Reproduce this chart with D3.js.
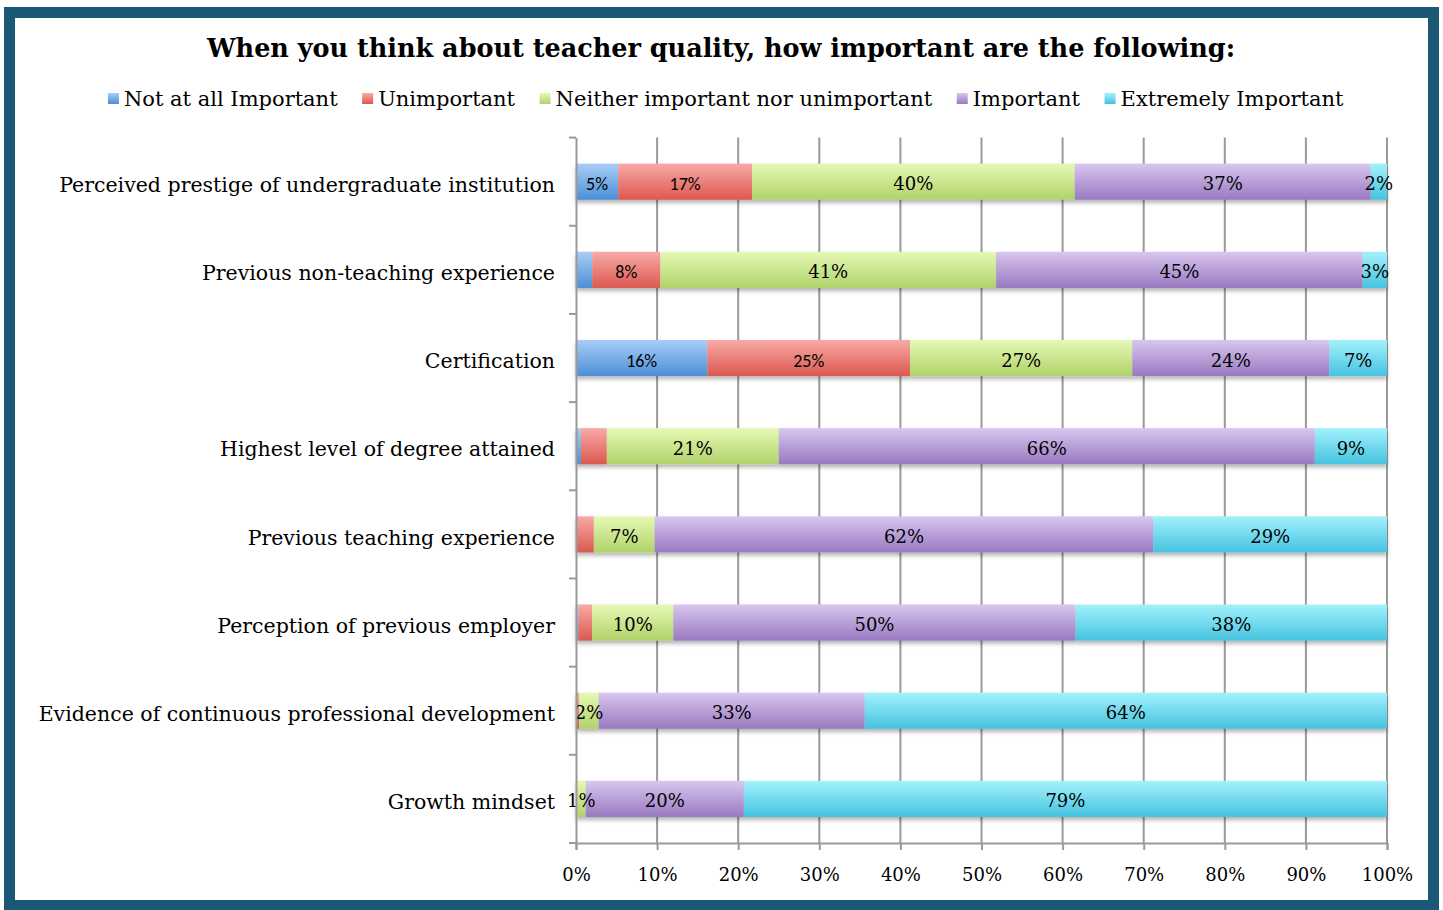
<!DOCTYPE html>
<html>
<head>
<meta charset="utf-8">
<script src="https://cdn.jsdelivr.net/npm/d3@7"></script>
<style>
  body { margin: 0; background: #fff; }
  svg text { font-family: "DejaVu Serif", Georgia, serif; fill: #000; }
</style>
</head>
<body>
<div id="chart"></div>
<script>
// chart data, percent of respondents
var categories = [
  "Perceived prestige of undergraduate institution",
  "Previous non-teaching experience",
  "Certification",
  "Highest level of degree attained",
  "Previous teaching experience",
  "Perception of previous employer",
  "Evidence of continuous professional development",
  "Growth mindset"
];
var seriesNames = ["Not at all Important", "Unimportant", "Neither important nor unimportant", "Important", "Extremely Important"];
var notAtAll    = [5.2, 2.0, 16.2, 0.6, 0.1, 0.3, 0.0, 0.1];
var unimportant = [16.5, 8.4, 25.0, 3.2, 2.1, 1.7, 0.4, 0.0];
var neither     = [39.8, 41.4, 27.4, 21.2, 7.5, 10.0, 2.4, 1.1];
var important   = [36.5, 45.2, 24.3, 66.1, 61.5, 49.6, 32.8, 19.5];
var extremely   = [2.0, 3.0, 7.1, 8.9, 28.8, 38.4, 64.4, 79.3];
// which small segments show no label (row index per series)
var hiddenLabels = [[1, 3, 4, 5, 6, 7], [3, 4, 5, 6, 7], [], [], []];
var xTicks = [0, 10, 20, 30, 40, 50, 60, 70, 80, 90, 100];

var seriesValues = [notAtAll, unimportant, neither, important, extremely];
var colorTop = ["#a9cdf5", "#f8aaa6", "#e6f9b4", "#d9c6f0", "#a3f1fc"];
var colorBot = ["#4b8fd8", "#dc5850", "#b0d26a", "#9879c0", "#45c3e0"];

var W = 1443, H = 910;
var margin = { left: 576, right: 1443 - 1387, top: 137.6, bottom: 910 - 843 };

var svg = d3.select("#chart").append("svg")
    .attr("width", W)
    .attr("height", H);

var defs = svg.append("defs");
colorTop.forEach(function(c, i) {
  var g = defs.append("linearGradient")
      .attr("id", "grad" + i)
      .attr("x1", 0).attr("y1", 0).attr("x2", 0).attr("y2", 1);
  g.append("stop").attr("offset", "0%").attr("stop-color", c);
  g.append("stop").attr("offset", "100%").attr("stop-color", colorBot[i]);
});
var shadow = defs.append("filter").attr("id", "shadow")
    .attr("x", "-5%").attr("y", "-20%").attr("width", "110%").attr("height", "160%");
shadow.append("feDropShadow")
    .attr("dx", 0).attr("dy", 3).attr("stdDeviation", 2)
    .attr("flood-color", "#000").attr("flood-opacity", 0.3);

// frame
svg.append("rect")
    .attr("x", 9.5).attr("y", 12.5)
    .attr("width", 1424).attr("height", 893)
    .attr("fill", "#fff")
    .attr("stroke", "#1b5876")
    .attr("stroke-width", 11);

var x = d3.scaleLinear().domain([0, 100]).range([margin.left, W - margin.right]);
var y = d3.scaleBand().domain(categories)
    .range([margin.top, H - margin.bottom])
    .paddingInner(0.59).paddingOuter(0.295);

// vertical gridlines
svg.append("g")
    .selectAll("line")
    .data(xTicks.slice(1))
    .join("line")
    .attr("x1", function(d) { return x(d); })
    .attr("x2", function(d) { return x(d); })
    .attr("y1", margin.top)
    .attr("y2", H - margin.bottom)
    .attr("stroke", "#9a9a9a")
    .attr("stroke-width", 2);

// stacked series
var rows = categories.map(function(c, i) {
  var o = { cat: c };
  seriesValues.forEach(function(s, k) { o["s" + k] = s[i]; });
  return o;
});
var stack = d3.stack().keys(seriesValues.map(function(s, k) { return "s" + k; }));
var layers = stack(rows);

var barG = svg.append("g").attr("filter", "url(#shadow)");
layers.forEach(function(layer, k) {
  barG.append("g")
      .selectAll("rect")
      .data(layer)
      .join("rect")
      .attr("x", function(d) { return x(d[0]); })
      .attr("width", function(d) { return Math.max(0, x(d[1]) - x(d[0])); })
      .attr("y", function(d) { return y(d.data.cat); })
      .attr("height", y.bandwidth())
      .attr("fill", "url(#grad" + k + ")");
});

// data labels
layers.forEach(function(layer, k) {
  svg.append("g")
      .selectAll("text")
      .data(layer.filter(function(d, i) { return hiddenLabels[k].indexOf(i) < 0; }))
      .join("text")
      .attr("x", function(d) { return x((d[0] + d[1]) / 2); })
      .attr("y", function(d) { return y(d.data.cat) + y.bandwidth() / 2 + 2; })
      .attr("dy", "0.36em")
      .attr("text-anchor", "middle")
      .style("font-family", k < 2 ? "Carlito, 'Liberation Sans', sans-serif" : null)
      .style("font-size", "18px")
      .text(function(d) { return Math.round(d[1] - d[0]) + "%"; });
});

// axes
var xAxis = svg.append("g")
    .attr("transform", "translate(0," + (H - margin.bottom) + ")")
    .call(d3.axisBottom(x).tickValues(xTicks).tickSize(7).tickPadding(18)
      .tickFormat(function(d) { return d + "%"; }));
xAxis.select(".domain").attr("stroke", "#9a9a9a").attr("stroke-width", 2);
xAxis.selectAll(".tick line").attr("stroke", "#9a9a9a").attr("stroke-width", 2);
xAxis.selectAll("text").style("font-size", "18px").style("font-family", null);

var yAxis = svg.append("g")
    .attr("transform", "translate(" + margin.left + ",0)")
    .call(d3.axisLeft(y).tickSize(0).tickPadding(21));
yAxis.select(".domain").attr("stroke", "#9a9a9a").attr("stroke-width", 2);
yAxis.selectAll("text").attr("dy", "0.5em").style("font-size", "20.5px").style("font-family", null);
// category separator ticks
var step = y.step();
svg.append("g")
    .selectAll("line")
    .data(d3.range(categories.length + 1))
    .join("line")
    .attr("x1", margin.left - 7)
    .attr("x2", margin.left)
    .attr("y1", function(i) { return margin.top + i * step; })
    .attr("y2", function(i) { return margin.top + i * step; })
    .attr("stroke", "#9a9a9a")
    .attr("stroke-width", 2);

// title
svg.append("text")
    .attr("x", 721)
    .attr("y", 57)
    .attr("text-anchor", "middle")
    .style("font-size", "25.5px")
    .style("font-weight", "bold")
    .text("When you think about teacher quality, how important are the following:");

// legend
var legend = svg.append("g").attr("transform", "translate(0,99)");
var items = legend.selectAll("g")
    .data(seriesNames)
    .join("g");
items.append("rect")
    .attr("x", 0).attr("y", -6)
    .attr("width", 11).attr("height", 11)
    .attr("fill", function(d, i) { return "url(#grad" + i + ")"; });
items.append("text")
    .attr("x", 16)
    .attr("dy", "0.35em")
    .style("font-size", "21px")
    .text(function(d) { return d; });
var widths = [];
items.each(function() { widths.push(this.getBBox().width); });
var gap = 24;
var total = d3.sum(widths) + gap * (widths.length - 1);
var pos = 726 - total / 2;
items.attr("transform", function(d, i) {
  var p = pos;
  pos += widths[i] + gap;
  return "translate(" + p + ",0)";
});
</script>
</body>
</html>
